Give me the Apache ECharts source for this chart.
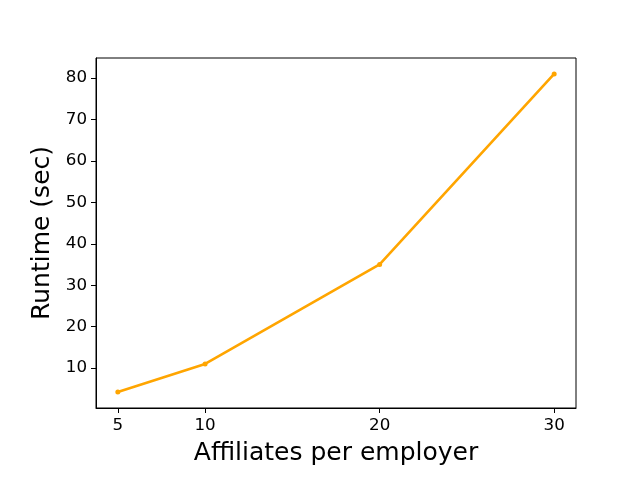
<!DOCTYPE html>
<html><head><meta charset="utf-8">
<script src="https://cdn.jsdelivr.net/npm/echarts@6/dist/echarts.min.js"></script>
<style>html,body{margin:0;padding:0;background:#fff}#c{width:640px;height:480px}</style>
</head><body><div id="c"></div>
<script>
const affiliates = [5, 10, 20, 30];
const runtime = [4.2, 11, 35, 81];
const xTicks = [5, 10, 20, 30];
const yTicks = [10, 20, 30, 40, 50, 60, 70, 80];

const chart = echarts.init(document.getElementById('c'), null, {renderer: 'canvas'});
const font = 'DejaVu Sans';
chart.setOption({
  animation: false,
  backgroundColor: '#ffffff',
  grid: {left: 96, right: 64, top: 58, bottom: 72, show: true, borderColor: '#000', borderWidth: 1, containLabel: false},
  xAxis: {
    type: 'value', min: 3.75, max: 31.25,
    name: 'Affiliates per employer', nameLocation: 'middle', nameGap: 33,
    nameTextStyle: {fontFamily: font, fontSize: 25, color: '#000'},
    axisLine: {show: true, lineStyle: {color: '#000', width: 1}},
    axisTick: {show: true, customValues: xTicks, length: 5, lineStyle: {color: '#000'}},
    axisLabel: {customValues: xTicks, fontFamily: font, fontSize: 16.7, color: '#000', margin: 9},
    splitLine: {show: false}
  },
  yAxis: {
    type: 'value', min: 0.36, max: 84.84,
    name: 'Runtime (sec)', nameLocation: 'middle', nameGap: 41, nameRotate: 90,
    nameTextStyle: {fontFamily: font, fontSize: 25, color: '#000'},
    axisLine: {show: true, lineStyle: {color: '#000', width: 1}},
    axisTick: {show: true, customValues: yTicks, length: 5, lineStyle: {color: '#000'}},
    axisLabel: {customValues: yTicks, fontFamily: font, fontSize: 16.7, color: '#000', margin: 9},
    splitLine: {show: false}
  },
  series: [{
    type: 'line',
    data: affiliates.map((x, i) => [x, runtime[i]]),
    color: '#FFA500',
    lineStyle: {width: 2.6, color: '#FFA500'},
    symbol: 'circle', symbolSize: 5,
    itemStyle: {color: '#FFA500'}
  }]
});
</script></body></html>
